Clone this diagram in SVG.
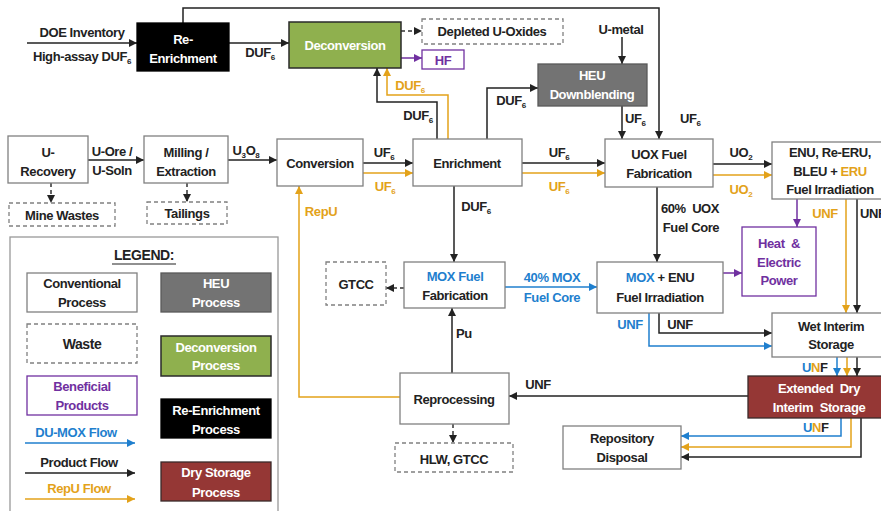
<svg xmlns="http://www.w3.org/2000/svg" width="881" height="511" viewBox="0 0 881 511">
<defs>
<style>
.t{font-family:"Liberation Sans",Arial,sans-serif;font-weight:bold;font-size:13px;fill:#222;text-anchor:middle;letter-spacing:-0.4px;white-space:pre}
.s{text-anchor:start}
.wt{fill:#fff}
.pt{fill:#7030A0}
.yt{fill:#E3A21A}
.bt{fill:#1F7FCE}
.box{fill:#fff;stroke:#808080;stroke-width:1.3}
.dbox{fill:#fff;stroke:#808080;stroke-width:1.3;stroke-dasharray:4 3}
.pbox{fill:#fff;stroke:#7030A0;stroke-width:1.3}
.heu{fill:#737373;stroke:#595959;stroke-width:1.3}
.dec{fill:#8FB04E;stroke:#2a2a2a;stroke-width:1.5}
.ren{fill:#000;stroke:#000;stroke-width:1.3}
.dry{fill:#953735;stroke:#3a2a2a;stroke-width:1.3}
.k{fill:none;stroke:#222;stroke-width:1.5;marker-end:url(#mk)}
.kd{fill:none;stroke:#333;stroke-width:1.5;stroke-dasharray:4 3;marker-end:url(#mk)}
.y{fill:none;stroke:#E3A21A;stroke-width:1.5;marker-end:url(#my)}
.b{fill:none;stroke:#1F7FCE;stroke-width:1.5;marker-end:url(#mb)}
.p{fill:none;stroke:#7030A0;stroke-width:1.5;marker-end:url(#mp)}
.sub{font-size:8px}
</style>
<marker id="mk" viewBox="0 0 10 10" refX="10" refY="5" markerWidth="9" markerHeight="8" markerUnits="userSpaceOnUse" orient="auto"><path d="M0,0 L10,5 L0,10 z" fill="#222"/></marker>
<marker id="my" viewBox="0 0 10 10" refX="10" refY="5" markerWidth="9" markerHeight="8" markerUnits="userSpaceOnUse" orient="auto"><path d="M0,0 L10,5 L0,10 z" fill="#E3A21A"/></marker>
<marker id="mb" viewBox="0 0 10 10" refX="10" refY="5" markerWidth="9" markerHeight="8" markerUnits="userSpaceOnUse" orient="auto"><path d="M0,0 L10,5 L0,10 z" fill="#1F7FCE"/></marker>
<marker id="mp" viewBox="0 0 10 10" refX="10" refY="5" markerWidth="9" markerHeight="8" markerUnits="userSpaceOnUse" orient="auto"><path d="M0,0 L10,5 L0,10 z" fill="#7030A0"/></marker>
</defs>
<rect width="881" height="511" fill="#fff"/>

<g id="connectors">
<path class="k" d="M27 43 H137"/>
<path class="k" d="M229 43 H289"/>
<path class="k" d="M183 23 V8 H659 V139"/>
<path class="kd" d="M401 31 H422"/>
<path class="p" d="M401 58 H422"/>
<path class="k" d="M437 139 V102 H377 V68"/>
<path class="y" d="M448 139 V95 H387 V68"/>
<path class="k" d="M487 139 V88 H538"/>
<path class="k" d="M622 37 V64"/>
<path class="k" d="M622 106 V139"/>
<path class="k" d="M88 160 H144"/>
<path class="k" d="M228 160 H277"/>
<path class="kd" d="M51 183 V203"/>
<path class="kd" d="M187 183 V202"/>
<path class="k" d="M363 163 H413"/>
<path class="y" d="M363 173 H413"/>
<path class="k" d="M522 163 H605"/>
<path class="y" d="M522 173 H605"/>
<path class="k" d="M713 164 H772"/>
<path class="y" d="M713 175 H772"/>
<path class="p" d="M797 199 V227"/>
<path class="y" d="M846 199 V313"/>
<path class="k" d="M857 199 V313"/>
<path class="k" d="M657 187 V262"/>
<path class="p" d="M723 273 H742"/>
<path class="k" d="M659 313 V333 H772"/>
<path class="b" d="M649 313 V346 H772"/>
<path class="b" d="M837 357 V376"/>
<path class="y" d="M847 357 V376"/>
<path class="k" d="M857 357 V376"/>
<path class="k" d="M748 396 H509"/>
<path class="b" d="M841 418 V436 H681"/>
<path class="y" d="M851 418 V447 H681"/>
<path class="k" d="M861 418 V457 H681"/>
<path class="k" d="M454 186 V262"/>
<path class="b" d="M505 287 H597"/>
<path class="kd" d="M404 288 H386"/>
<path class="k" d="M452 373 V308"/>
<path class="kd" d="M453 424 V443"/>
<path class="y" d="M400 397 H299 V186"/>
</g>

<g id="labels">
<text class="t" x="82" y="37">DOE Inventory</text>
<text class="t" x="82" y="61">High-assay DUF<tspan class="sub" dy="3">6</tspan></text>
<text class="t" x="260" y="57">DUF<tspan class="sub" dy="3">6</tspan></text>
<text class="t yt" x="410" y="90">DUF<tspan class="sub" dy="3">6</tspan></text>
<text class="t" x="418" y="120">DUF<tspan class="sub" dy="3">6</tspan></text>
<text class="t" x="511" y="105">DUF<tspan class="sub" dy="3">6</tspan></text>
<text class="t" x="621" y="34">U-metal</text>
<text class="t s" x="625" y="123">UF<tspan class="sub" dy="3">6</tspan></text>
<text class="t s" x="680" y="123">UF<tspan class="sub" dy="3">6</tspan></text>
<text class="t" x="112" y="156">U-Ore /</text>
<text class="t" x="112" y="175">U-Soln</text>
<text class="t" x="246" y="155">U<tspan class="sub" dy="3">3</tspan><tspan dy="-3">O</tspan><tspan class="sub" dy="3">8</tspan></text>
<text class="t" x="384" y="157">UF<tspan class="sub" dy="3">6</tspan></text>
<text class="t yt" x="385" y="191">UF<tspan class="sub" dy="3">6</tspan></text>
<text class="t" x="559" y="157">UF<tspan class="sub" dy="3">6</tspan></text>
<text class="t yt" x="559" y="191">UF<tspan class="sub" dy="3">6</tspan></text>
<text class="t" x="741" y="157">UO<tspan class="sub" dy="3">2</tspan></text>
<text class="t yt" x="741" y="194">UO<tspan class="sub" dy="3">2</tspan></text>
<text class="t" x="476" y="211">DUF<tspan class="sub" dy="3">6</tspan></text>
<text class="t yt" x="321" y="216">RepU</text>
<text class="t" x="690" y="213">60%  UOX</text>
<text class="t" x="691" y="232">Fuel Core</text>
<text class="t yt" x="825" y="218">UNF</text>
<text class="t s" x="860" y="218">UNF</text>
<text class="t bt" x="552" y="282">40% MOX</text>
<text class="t bt" x="552" y="302">Fuel Core</text>
<text class="t s" x="456" y="338">Pu</text>
<text class="t bt" x="630" y="329">UNF</text>
<text class="t" x="680" y="329">UNF</text>
<text class="t s" x="802" y="372"><tspan class="bt">U</tspan><tspan class="yt">N</tspan>F</text>
<text class="t s" x="803" y="432"><tspan class="bt">U</tspan><tspan class="yt">N</tspan>F</text>
<text class="t" x="538" y="389">UNF</text>
</g>

<g id="re-enrichment"><rect class="ren" x="137" y="23" width="92" height="48"/><text class="t wt" x="183" y="44">Re-</text><text class="t wt" x="183" y="63">Enrichment</text></g>
<g id="deconversion"><rect class="dec" x="289" y="22" width="112" height="46"/><text class="t wt" x="345" y="50">Deconversion</text></g>
<g id="depleted"><rect class="dbox" x="422" y="19" width="141" height="25"/><text class="t" x="492" y="36">Depleted U-Oxides</text></g>
<g id="hf"><rect class="pbox" x="422" y="50" width="42" height="19"/><text class="t pt" x="443" y="65">HF</text></g>
<g id="heu"><rect class="heu" x="538" y="64" width="109" height="42"/><text class="t wt" x="592" y="80">HEU</text><text class="t wt" x="592" y="99">Downblending</text></g>
<g id="u-recovery"><rect class="box" x="8" y="136" width="80" height="47"/><text class="t" x="48" y="157">U-</text><text class="t" x="48" y="176">Recovery</text></g>
<g id="milling"><rect class="box" x="144" y="136" width="84" height="47"/><text class="t" x="186" y="157">Milling /</text><text class="t" x="186" y="176">Extraction</text></g>
<g id="mine-wastes"><rect class="dbox" x="9" y="203" width="106" height="23"/><text class="t" x="62" y="220">Mine Wastes</text></g>
<g id="tailings"><rect class="dbox" x="147" y="202" width="80" height="22"/><text class="t" x="187" y="218">Tailings</text></g>
<g id="conversion"><rect class="box" x="277" y="139" width="86" height="47"/><text class="t" x="320" y="168">Conversion</text></g>
<g id="enrichment"><rect class="box" x="413" y="139" width="109" height="47"/><text class="t" x="467" y="168">Enrichment</text></g>
<g id="uox"><rect class="box" x="605" y="139" width="108" height="48"/><text class="t" x="659" y="159">UOX Fuel</text><text class="t" x="659" y="178">Fabrication</text></g>
<g id="enu"><rect class="box" x="772" y="142" width="115" height="57"/><text class="t" x="830" y="157">ENU, Re-ERU,</text><text class="t" x="830" y="176">BLEU + <tspan class="yt">ERU</tspan></text><text class="t" x="830" y="194">Fuel Irradiation</text></g>
<g id="heat"><rect class="pbox" x="742" y="227" width="74" height="69"/><text class="t pt" x="779" y="248">Heat  &amp;</text><text class="t pt" x="779" y="267">Electric</text><text class="t pt" x="779" y="285">Power</text></g>
<g id="mox-enu"><rect class="box" x="597" y="262" width="126" height="51"/><text class="t" x="660" y="282"><tspan class="bt">MOX</tspan> + ENU</text><text class="t" x="660" y="302">Fuel Irradiation</text></g>
<g id="mox-fab"><rect class="box" x="404" y="262" width="101" height="46"/><text class="t bt" x="455" y="281">MOX Fuel</text><text class="t" x="455" y="300">Fabrication</text></g>
<g id="gtcc"><rect class="dbox" x="326" y="262" width="60" height="43"/><text class="t" x="356" y="289">GTCC</text></g>
<g id="wet"><rect class="box" x="772" y="313" width="115" height="44"/><text class="t" x="831" y="331">Wet Interim</text><text class="t" x="831" y="349">Storage</text></g>
<g id="extended"><rect class="dry" x="748" y="376" width="140" height="42"/><text class="t wt" x="819" y="393">Extended  Dry</text><text class="t wt" x="819" y="412">Interim  Storage</text></g>
<g id="repository"><rect class="box" x="563" y="426" width="118" height="43"/><text class="t" x="622" y="443">Repository</text><text class="t" x="622" y="462">Disposal</text></g>
<g id="reprocessing"><rect class="box" x="400" y="373" width="109" height="51"/><text class="t" x="454" y="404">Reprocessing</text></g>
<g id="hlw"><rect class="dbox" x="395" y="443" width="118" height="29"/><text class="t" x="454" y="464">HLW, GTCC</text></g>

<g id="legend">
<rect x="10" y="237" width="268" height="290" fill="#fff" stroke="#999" stroke-width="1.3"/>
<text class="t" x="144" y="260" style="font-size:14px">LEGEND:</text>
<line x1="112" y1="264" x2="176" y2="264" stroke="#222" stroke-width="1.2"/>
<rect class="box" x="27" y="273" width="110" height="39"/><text class="t" x="82" y="288">Conventional</text><text class="t" x="82" y="307">Process</text>
<rect class="heu" x="161" y="273" width="110" height="39"/><text class="t wt" x="216" y="288">HEU</text><text class="t wt" x="216" y="307">Process</text>
<rect class="dbox" x="27" y="324" width="110" height="39"/><text class="t" x="82" y="349" style="font-size:14px">Waste</text>
<rect class="dec" x="161" y="336" width="110" height="40"/><text class="t wt" x="216" y="352">Deconversion</text><text class="t wt" x="216" y="370">Process</text>
<rect class="pbox" x="27" y="376" width="110" height="39"/><text class="t pt" x="82" y="391">Beneficial</text><text class="t pt" x="82" y="410">Products</text>
<rect class="ren" x="161" y="399" width="110" height="39"/><text class="t wt" x="216" y="415">Re-Enrichment</text><text class="t wt" x="216" y="434">Process</text>
<text class="t bt" x="76" y="437">DU-MOX Flow</text><path class="b" d="M25 443 H135"/>
<text class="t" x="79" y="467">Product Flow</text><path class="k" d="M25 473 H135"/>
<text class="t yt" x="79" y="493">RepU Flow</text><path class="y" d="M25 499 H135"/>
<rect class="dry" x="161" y="462" width="110" height="39"/><text class="t wt" x="216" y="477">Dry Storage</text><text class="t wt" x="216" y="497">Process</text>
</g>
</svg>
